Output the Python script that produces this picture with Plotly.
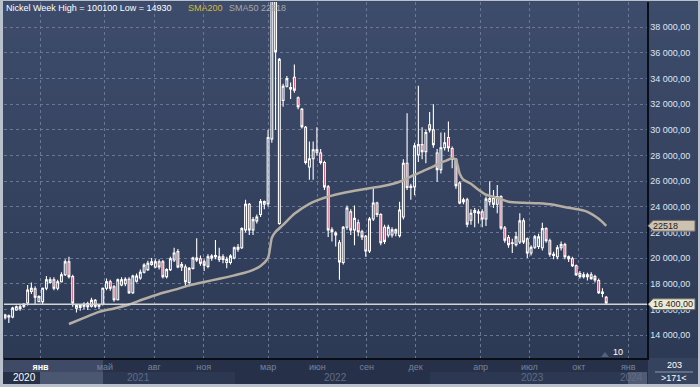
import plotly.graph_objects as go
import pandas as pd

# ---------------- data (weekly nickel candles) ----------------
week_start = "2020-10-27"
opens = [15350,15400,15400,15950,16050,16250,16500,17400,17600,16600,16600,17650,18100,18300,17650,18150,18700,19700,18550,16100,
         16150,16250,16450,16250,16700,16250,16400,17650,18150,17750,16750,17900,18000,18350,17300,18200,18450,18900,19100,19500,
         19300,19700,19700,18550,19100,19850,20500,19300,19300,18100,19200,19850,19950,19700,19350,20000,20100,19900,20100,19650,
         19650,20000,20700,20800,22200,24200,22200,22900,23400,24200,24250,29300,48000,22700,32300,33400,33200,34100,32500,31600,
         30200,27100,27750,28250,28200,27450,25550,22050,21950,21200,19650,22400,23600,22200,22750,22050,21700,20550,23050,24300,
         23400,22400,21800,21800,21950,21750,23200,27400,25500,25550,28050,28850,28300,30400,30000,28200,26900,28600,29400,28550,
         27700,25850,24400,24550,22950,23550,23500,23600,23050,24400,24650,24200,24800,22350,21600,21150,21050,21250,22900,21500,
         20400,20850,20900,20800,22300,21350,20300,20100,20800,21050,20100,19950,19400,18800,18550,18550,18700,18550,18250,17250,
         16950]
highs = [15650,15600,16200,16300,16400,16500,17900,18100,17800,17100,17700,18600,18500,18500,18300,18900,19900,20100,18700,16400,
         16400,16550,16600,16900,16800,16400,17700,18400,18300,17900,18400,18500,18500,18500,18700,18800,19100,19600,19800,20000,
         19900,19900,19850,19200,20100,20800,20700,19700,19500,19300,20100,21550,20200,19900,20300,20300,21400,20800,20300,20100,
         20300,20900,21100,22400,24550,24300,23200,23400,24600,24500,30000,100100,50000,35600,33600,34200,33700,35100,32600,31700,
         30300,29100,29100,30200,28500,27600,25700,22400,22100,21400,22500,24100,23800,24100,23000,22200,21800,23200,25500,24400,
         23500,22600,22600,22400,22300,24400,27700,31300,25800,29000,33450,30200,30000,31400,32000,28500,29800,29800,30650,28700,
         27800,26000,24700,24700,23800,23900,23800,23800,24800,26000,25300,25700,24900,22500,21800,21500,22050,23500,23100,21600,
         21000,21800,21900,22750,22400,21500,20500,21000,21300,21200,20200,20100,19500,19000,18900,18850,18900,18700,18400,17650,
         17050]
lows = [15200,14930,15300,15900,15900,16100,16300,17200,16340,16550,16400,17500,18000,17500,17500,18100,18600,18400,16200,15750,
        15900,16000,15950,16150,16100,16000,16300,17500,17450,16600,16700,17800,17800,17200,17200,18100,18300,18800,19000,19400,
        19200,19100,18400,18400,19000,19700,19200,19000,17750,17800,19100,19700,19400,19000,19200,19800,19900,19700,19600,19200,
        19500,19900,20500,20700,22000,21800,21800,22700,23200,23800,24000,29000,30000,22600,31800,33300,32400,32900,31600,30100,
        27300,26100,26100,28000,27300,25300,21650,21300,20900,18300,19500,22200,21800,21000,21700,21400,20100,20400,22900,23200,
        21000,21100,21600,21600,21700,21600,23000,25300,24550,24900,27500,27700,27400,29800,28600,25950,26600,28400,28300,27000,
        25400,24200,24200,22400,22600,22400,22700,22400,22500,24100,23900,23500,22200,21200,20800,20400,20900,21100,21100,20000,
        20200,20700,20700,20600,21200,20100,19900,19900,20600,19900,19700,19300,18600,18400,18400,18250,18300,18100,17200,16950,
        16400]
closes = [15550,15500,16100,16200,16200,16400,17500,17650,16950,17000,17650,18300,18300,17650,18150,18700,19700,18550,16500,16300,
          16300,16400,16200,16700,16250,16300,17650,18150,17650,16750,18300,18300,18350,17300,18600,18600,18900,19450,19600,19700,
          19700,19300,18550,19100,19950,20400,19300,19500,18150,19200,20000,20000,19600,19450,20100,20150,20200,20100,19900,19900,
          20150,20800,20850,22300,24200,22200,23000,23200,24400,24400,29400,48000,36100,35500,33400,34000,33300,33100,31800,30250,
          27450,27750,28450,28450,27450,25550,22200,22200,21800,19700,22400,23900,22200,23100,22050,21650,20550,23050,24300,23400,
          21200,21300,22400,22200,22200,23750,27400,25500,25600,28750,28850,28300,29800,30000,28850,26900,28600,29000,28600,27700,
          25650,24300,24550,22650,23500,23700,23600,23050,24600,24650,24200,24800,22350,21400,21050,21200,21650,22900,21250,20400,
          20850,21650,21650,22300,21350,20300,20200,20800,21050,20100,19950,19400,18700,18550,18700,18700,18400,18300,17300,17350,
          16500]

# SMA50 readings at selected candle indices
sma_idx = [17,21,25,29,33,37,41,45,49,53,57,61,65,68,70,71,72,74,77,81,85,89,93,97,101,105,109,113,116,118,119,120,121,122,
           124,126,128,130,132,134,138,142,146,150,153,155,158,160]
sma_vals = [14860,15330,15800,16070,16380,16810,17200,17520,17870,18140,18380,18650,18960,19390,20020,21580,22050,22590,23450,
            24230,24700,25020,25250,25450,25640,25950,26500,27010,27440,27670,27790,27670,26580,26110,25800,25330,24940,24780,
            24590,24390,24310,24270,24160,23920,23770,23610,23060,22518]

y_ticks = [14000,16000,18000,20000,22000,24000,26000,28000,30000,32000,34000,36000,38000]
y_tick_text = ["14 000,00","16 000,00","18 000,00","20 000,00","22 000,00","24 000,00","26 000,00",
               "28 000,00","30 000,00","32 000,00","34 000,00","36 000,00","38 000,00"]
month_ticks = ["2021-01-01","2021-05-01","2021-08-01","2021-11-01","2022-03-01","2022-06-01","2022-09-01",
               "2022-12-01","2023-04-01","2023-07-01","2023-10-01","2024-01-01"]
month_text = ["янв","май","авг","ноя","мар","июн","сен","дек","апр","июл","окт","янв"]
year_labels = ["2020","2021","2022","2023","2024"]
year_dates = ["2020-12-03","2021-07-02","2022-07-04","2023-07-06","2024-02-02"]
last_price = 16400
sma_last = 22518

# ---------------- figure ----------------
dates = pd.date_range(week_start, periods=len(opens), freq="7D")
W, H = 700, 387
ML, MR, MT, MB = 4, 53, 2, 29
PW, PH = W - ML - MR, H - MT - MB
def px(x):  # pixel -> paper x
    return (x - ML) / PW
def py(y):  # pixel -> paper y
    return (H - MB - y) / PH

FONT = "Liberation Sans, Arial, sans-serif"
fig = go.Figure()
fig.add_trace(go.Candlestick(
    x=dates, open=opens, high=highs, low=lows, close=closes,
    increasing=dict(line=dict(color="#ffffff", width=1.1), fillcolor="rgba(0,0,0,0)"),
    decreasing=dict(line=dict(color="#ffffff", width=1.1), fillcolor="#c8324f"),
    whiskerwidth=0, hoverinfo="skip", showlegend=False))
fig.add_trace(go.Scatter(
    x=[dates[i] for i in sma_idx], y=sma_vals, mode="lines",
    line=dict(color="#b5aea2", width=2.5, shape="spline", smoothing=0.6),
    hoverinfo="skip", showlegend=False))

shapes = []
# gradient background bands (plot area + right panel)
top_c = (0x3e, 0x4c, 0x6c)
bot_c = (0x2d, 0x3a, 0x55)
nb = 30
for k in range(nb):
    t = (k + 0.5) / nb
    c = tuple(int(round(top_c[j] + (bot_c[j] - top_c[j]) * t)) for j in range(3))
    y0p = MT + PH * k / nb
    y1p = MT + PH * (k + 1) / nb
    shapes.append(dict(type="rect", xref="paper", yref="paper", x0=px(0), x1=px(W),
                       y0=py(y1p), y1=py(y0p) + 0.002, fillcolor="rgb(%d,%d,%d)" % c,
                       line=dict(width=0), layer="below"))
# bottom strip
def prect(x0, x1, y0, y1, color, layer="below"):
    shapes.append(dict(type="rect", xref="paper", yref="paper", x0=px(x0), x1=px(x1),
                       y0=py(y1), y1=py(y0), fillcolor=color, line=dict(width=0), layer=layer))
prect(0, W, 358, H, "#263149")
prect(3, 103, 359, 372, "#3e4a66")
prect(40, 103, 372, 384, "#4b5671")
prect(103, 235, 372, 384, "#2c3852")
prect(430, 628, 372, 384, "#2c3852")
prect(628, 647, 372, 384, "#505b74")
prect(648, W, 358, H, "#35435f")
shapes.append(dict(type="line", xref="paper", yref="paper", x0=px(655), x1=px(693),
                   y0=py(372), y1=py(372), line=dict(color="#8d98ae", width=1)))
# outer border
prect(0, 3, 0, H, "#b9c1cc", layer="above")
prect(0, W, 384, H, "#b9c1cc", layer="above")
prect(698, W, 0, H, "#b9c1cc", layer="above")
prect(0, W, 0, 1, "#b9c1cc", layer="above")
# last price line
shapes.append(dict(type="line", xref="paper", yref="y", x0=0, x1=1, y0=last_price, y1=last_price,
                   line=dict(color="#d4d4d4", width=1.5), layer="above"))
# badges
def badge(yv, color, half=420):
    x0, x1, x2 = px(648), px(653), px(695)
    path = "M %f,%f L %f,%f L %f,%f L %f,%f L %f,%f Z" % (
        x0, yv, x1, yv + half, x2, yv + half, x2, yv - half, x1, yv - half)
    shapes.append(dict(type="path", xref="paper", yref="y", path=path, fillcolor=color,
                       line=dict(color="#6f6a60", width=1), layer="above"))
badge(sma_last, "#cbc2b2")
badge(last_price, "#ecead6")
# small marker triangle
shapes.append(dict(type="path", xref="paper", yref="paper",
                   path="M %f,%f L %f,%f L %f,%f Z" % (px(601), py(357), px(605), py(352), px(609), py(357)),
                   fillcolor="#56627c", line=dict(width=0), layer="above"))

ann = []
def text(x, y, s, color, size=9, anchor="left", yref="paper", xref="paper", bold=False):
    ann.append(dict(x=x, y=y, xref=xref, yref=yref, text=("<b>%s</b>" % s) if bold else s,
                    showarrow=False, xanchor=anchor, yanchor="middle",
                    font=dict(family=FONT, size=size, color=color)))
text(px(4), py(8), "Nickel Week High = 100100 Low = 14930", "#ffffff")
text(px(186), py(8), "SMA200", "#d8b43a")
text(px(227), py(8), "SMA50 22518", "#a7a7a7")
text(px(651), sma_last, "22518", "#1e1e1e", yref="y")
text(px(651), last_price, "16 400,00", "#1e1e1e", yref="y")
text(px(618), py(352), "10", "#ffffff", anchor="center")
text(px(674), py(365), "203", "#ffffff", anchor="center")
text(px(674), py(378), "&gt;171&lt;", "#ffffff", anchor="center")
for lab, d in zip(year_labels, year_dates):
    col = "#ffffff" if lab == "2020" else "#5f6b86"
    anc = "right" if lab == "2024" else "center"
    ann.append(dict(x=d, y=py(378), xref="x", yref="paper", text=lab, showarrow=False,
                    xanchor=anc, yanchor="middle", font=dict(family=FONT, size=10, color=col)))

tt = []
for i, m in enumerate(month_text):
    if i == 0:
        tt.append("<span style='color:#ffffff'><b>%s</b></span>" % m)
    else:
        tt.append(m)

fig.update_layout(
    width=W, height=H, margin=dict(l=ML, r=MR, t=MT, b=MB, autoexpand=False),
    paper_bgcolor="#34425f", plot_bgcolor="#34425f",
    font=dict(family=FONT, size=9, color="#dce6f2"),
    showlegend=False, shapes=shapes, annotations=ann, hovermode=False,
    xaxis=dict(type="date", range=["2020-10-25", "2024-02-05"], tickvals=month_ticks, ticktext=tt,
               showgrid=True, gridcolor="#6a7794", griddash="3px,3px", gridwidth=1,
               showline=True, linecolor="#0a0e16", linewidth=1.5, ticks="", zeroline=False,
               automargin=False,
               tickfont=dict(size=9, color="#76829c"), rangeslider=dict(visible=False), fixedrange=True),
    yaxis=dict(side="right", range=[12206, 39973], tickvals=y_ticks, ticktext=y_tick_text,
               showgrid=True, gridcolor="#6a7794", griddash="3px,3px", gridwidth=1,
               showline=True, linecolor="#0a0e16", linewidth=1.5, ticks="", zeroline=False,
               automargin=False,
               tickfont=dict(size=9, color="#dce6f2"), fixedrange=True),
)
fig.write_html("out.html", config={"displayModeBar": False, "staticPlot": True},
               post_script="document.body.style.margin='0px';document.body.style.overflow='hidden';")
